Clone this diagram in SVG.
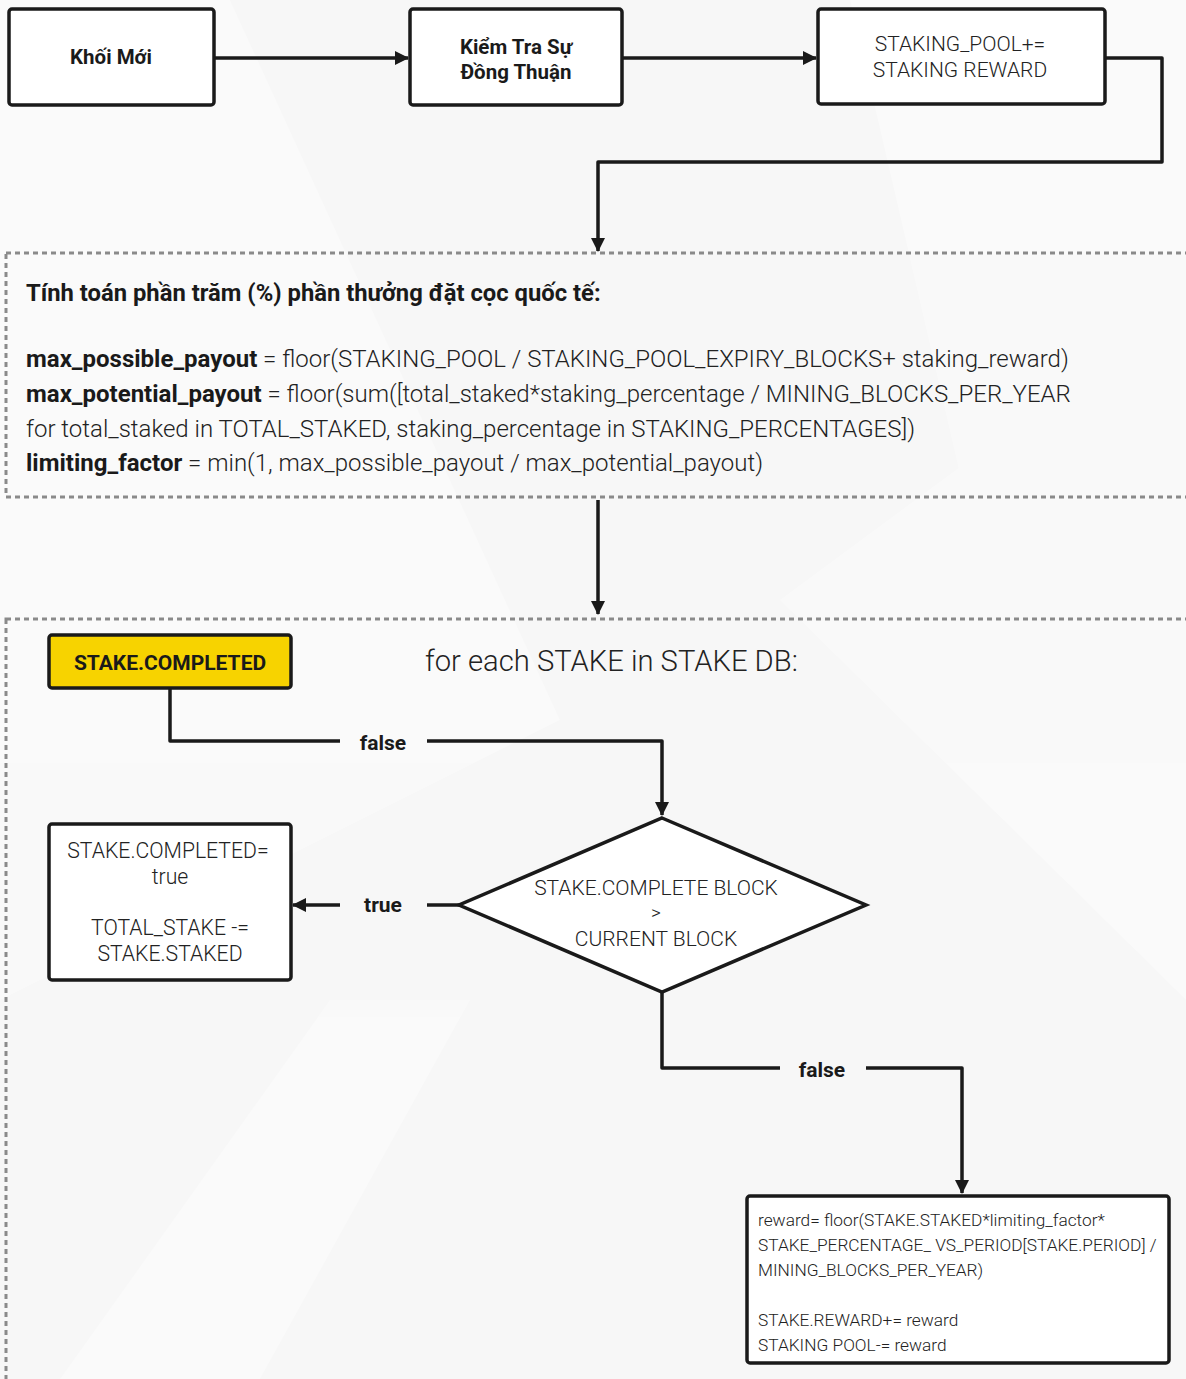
<svg xmlns="http://www.w3.org/2000/svg" width="1186" height="1379" viewBox="0 0 1186 1379">
  <style>
    .box { fill: #ffffff; stroke: #1a1a1a; stroke-width: 3.5; }
    .hl { fill: #f7d300; stroke: #1a1a1a; stroke-width: 3.5; }
    .frame { fill: none; stroke: #8a8a8a; stroke-width: 3; stroke-dasharray: 5 4; }
    .wire { fill: none; stroke: #1a1a1a; stroke-width: 3.5; stroke-linejoin: round; }
    .bold { font-family: Roboto, "Liberation Sans", sans-serif; font-weight: 700; fill: #1a1a1a; }
    .light { font-family: Roboto, "Liberation Sans", sans-serif; font-weight: 300; fill: #222222; }
    .mid { text-anchor: middle; }
  </style>
  <defs>
    <marker id="arrow" viewBox="0 0 14 14" refX="13" refY="7" markerWidth="14" markerHeight="14" markerUnits="userSpaceOnUse" orient="auto">
      <path d="M0,0 L14,7 L0,14 Z" fill="#1a1a1a"/>
    </marker>
  </defs>

  <!-- backdrop with faint facets -->
  <rect width="1186" height="1379" fill="#f7f7f7"/>
  <g fill="#ffffff" opacity="0.35">
    <polygon points="0,0 230,0 560,720 0,1000"/>
    <polygon points="850,0 1186,0 1186,500 980,560"/>
    <polygon points="330,1000 470,1000 260,1379 60,1379"/>
    <polygon points="780,600 1186,300 1186,1000"/>
  </g>

  <!-- frames -->
  <rect class="frame" x="6" y="253" width="1190" height="244"/>
  <rect class="frame" x="6" y="619" width="1190" height="770"/>

  <!-- connectors -->
  <g id="connectors">
    <path class="wire" d="M214,58 H408" marker-end="url(#arrow)"/>
    <path class="wire" d="M622,58 H816" marker-end="url(#arrow)"/>
    <path class="wire" d="M1105,58 H1162 V162 H598 V251" marker-end="url(#arrow)"/>
    <path class="wire" d="M598,500 V614" marker-end="url(#arrow)"/>
    <path class="wire" d="M170,688 V741 H340"/>
    <path class="wire" d="M427,741 H662 V815" marker-end="url(#arrow)"/>
    <path class="wire" d="M459,905 H427"/>
    <path class="wire" d="M340,905 H293" marker-end="url(#arrow)"/>
    <path class="wire" d="M662,992 V1068 H780"/>
    <path class="wire" d="M866,1068 H962 V1193" marker-end="url(#arrow)"/>
    <text class="bold mid" x="383" y="750" font-size="21">false</text>
    <text class="bold mid" x="383" y="912" font-size="21">true</text>
    <text class="bold mid" x="822" y="1077" font-size="21">false</text>
  </g>

  <g id="new-block">
    <rect class="box" x="9" y="9" width="205" height="96" rx="3"/>
    <text class="bold mid" x="111" y="64" font-size="20.5">Khối Mới</text>
  </g>

  <g id="consensus">
    <rect class="box" x="410" y="9" width="212" height="96" rx="3"/>
    <text class="bold mid" x="516" y="54" font-size="20.5">Kiểm Tra Sự</text>
    <text class="bold mid" x="516" y="79" font-size="20.5">Đồng Thuận</text>
  </g>

  <g id="pool-add">
    <rect class="box" x="818" y="9" width="287" height="95" rx="3"/>
    <text class="light mid" x="960" y="51" font-size="21">STAKING_POOL+=</text>
    <text class="light mid" x="960" y="77" font-size="21">STAKING REWARD</text>
  </g>

  <g id="global-calc">
    <text class="bold" x="26" y="301" font-size="23.8">Tính toán phần trăm (%) phần thưởng đặt cọc quốc tế:</text>
    <text class="light" x="26" y="367" font-size="24"><tspan class="bold">max_possible_payout</tspan> = floor(STAKING_POOL / STAKING_POOL_EXPIRY_BLOCKS+ staking_reward)</text>
    <text class="light" x="26" y="402" font-size="24"><tspan class="bold">max_potential_payout</tspan> = floor(sum([total_staked*staking_percentage / MINING_BLOCKS_PER_YEAR</text>
    <text class="light" x="26" y="437" font-size="24">for total_staked in TOTAL_STAKED, staking_percentage in STAKING_PERCENTAGES])</text>
    <text class="light" x="26" y="471" font-size="24"><tspan class="bold">limiting_factor</tspan> = min(1, max_possible_payout / max_potential_payout)</text>
  </g>

  <g id="loop-title">
    <text class="light" x="425" y="671" font-size="29.2">for each STAKE in STAKE DB:</text>
  </g>

  <g id="stake-completed">
    <rect class="hl" x="49" y="635" width="242" height="53" rx="3"/>
    <text class="bold mid" x="170" y="670" font-size="21">STAKE.COMPLETED</text>
  </g>

  <g id="block-check">
    <polygon class="box" points="662,818 866,905 662,992 459,905"/>
    <text class="light mid" x="656" y="895" font-size="21">STAKE.COMPLETE BLOCK</text>
    <text class="light mid" x="656" y="919" font-size="19">&gt;</text>
    <text class="light mid" x="656" y="946" font-size="21">CURRENT BLOCK</text>
  </g>

  <g id="mark-complete">
    <rect class="box" x="49" y="824" width="242" height="156" rx="3"/>
    <text class="light mid" x="168" y="858" font-size="21.2">STAKE.COMPLETED=</text>
    <text class="light mid" x="170" y="884" font-size="21.2">true</text>
    <text class="light mid" x="170" y="935" font-size="21.2">TOTAL_STAKE -=</text>
    <text class="light mid" x="170" y="961" font-size="21.2">STAKE.STAKED</text>
  </g>

  <g id="pay-reward">
    <rect class="box" x="747" y="1196" width="422" height="167" rx="3"/>
    <text class="light" x="758" y="1226" font-size="17.3">reward= floor(STAKE.STAKED*limiting_factor*</text>
    <text class="light" x="758" y="1251" font-size="17.3">STAKE_PERCENTAGE_ VS_PERIOD[STAKE.PERIOD] /</text>
    <text class="light" x="758" y="1276" font-size="17.3">MINING_BLOCKS_PER_YEAR)</text>
    <text class="light" x="758" y="1326" font-size="17.3">STAKE.REWARD+= reward</text>
    <text class="light" x="758" y="1351" font-size="17.3">STAKING POOL-= reward</text>
  </g>
</svg>
